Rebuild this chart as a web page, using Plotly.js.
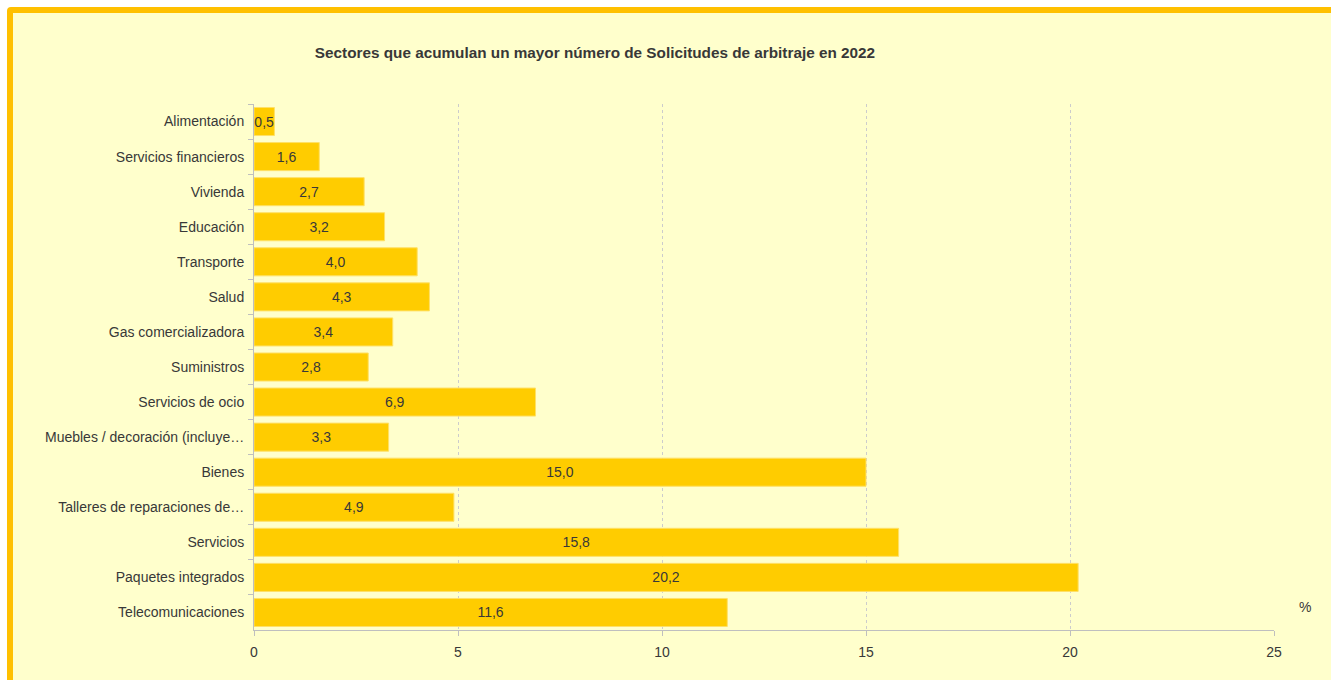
<!DOCTYPE html>
<html>
<head>
<meta charset="utf-8">
<script src="https://cdn.plot.ly/plotly-3.0.1.min.js"></script>
<style>
html,body{margin:0;padding:0;width:1331px;height:680px;overflow:hidden;background:#ffffff;}
#frame{position:absolute;left:7px;top:7px;width:1340px;height:700px;border:6px solid #FFC000;border-radius:4px;background:#FFFFCC;box-sizing:border-box;}
#chart{position:absolute;left:0;top:0;width:1331px;height:680px;}
</style>
</head>
<body>
<div id="frame"></div>
<div id="chart"></div>
<script>
var categories = [
  "Alimentación",
  "Servicios financieros",
  "Vivienda",
  "Educación",
  "Transporte",
  "Salud",
  "Gas comercializadora",
  "Suministros",
  "Servicios de ocio",
  "Muebles / decoración (incluye…",
  "Bienes",
  "Talleres de reparaciones de…",
  "Servicios",
  "Paquetes integrados",
  "Telecomunicaciones"
];
var values = [0.5, 1.6, 2.7, 3.2, 4.0, 4.3, 3.4, 2.8, 6.9, 3.3, 15.0, 4.9, 15.8, 20.2, 11.6];
var xTicks = [0, 5, 10, 15, 20, 25];

var fontFam = "'Liberation Sans Narrow', 'Arial Narrow', 'Liberation Sans', Arial, sans-serif";
var txtColor = '#383838';

var trace = {
  type: 'bar',
  orientation: 'h',
  y: categories,
  x: values,
  marker: {color: '#FFCC00', line: {color: '#FFE066', width: 1}},
  texttemplate: '%{x:.1f}',
  textposition: 'inside',
  insidetextanchor: 'middle',
  textangle: 0,
  constraintext: 'none',
  textfont: {family: fontFam, size: 14, color: txtColor},
  cliponaxis: false,
  hoverinfo: 'none'
};

var layout = {
  width: 1331,
  height: 680,
  paper_bgcolor: 'rgba(0,0,0,0)',
  plot_bgcolor: 'rgba(0,0,0,0)',
  separators: ',.',
  margin: {l: 254, r: 57, t: 104, b: 50, pad: 0},
  bargap: 0.2,
  showlegend: false,
  font: {family: fontFam, size: 14, color: txtColor},
  title: {
    text: '<b>Sectores que acumulan un mayor número de Solicitudes de arbitraje en 2022</b>',
    font: {family: fontFam, size: 15.3, color: txtColor},
    x: 0.447, xanchor: 'center', xref: 'container',
    y: 0.923, yanchor: 'middle', yref: 'container'
  },
  xaxis: {
    range: [0, 25],
    tickvals: xTicks,
    ticktext: xTicks.map(String),
    showgrid: true,
    gridcolor: '#cccccc',
    griddash: 'dot',
    gridwidth: 1,
    zeroline: false,
    showline: true,
    linecolor: '#bfbfbf',
    linewidth: 1,
    ticks: 'outside',
    ticklen: 5,
    tickcolor: '#bfbfbf',
    ticklabelstandoff: 4,
    tickfont: {family: fontFam, size: 14, color: txtColor},
    fixedrange: true
  },
  yaxis: {
    categoryorder: 'array',
    categoryarray: categories,
    autorange: 'reversed',
    showline: true,
    linecolor: '#bfbfbf',
    linewidth: 1,
    ticks: 'outside',
    tickson: 'boundaries',
    ticklen: 5,
    tickcolor: '#bfbfbf',
    showgrid: false,
    tickfont: {family: fontFam, size: 14, color: txtColor},
    ticklabelstandoff: 6,
    fixedrange: true
  },
  annotations: [{
    text: '%',
    xref: 'paper', yref: 'paper',
    x: 1.03, y: 0.043,
    xanchor: 'center', yanchor: 'middle',
    showarrow: false,
    font: {family: fontFam, size: 14, color: txtColor}
  }]
};

Plotly.newPlot('chart', [trace], layout, {displayModeBar: false, staticPlot: true});
</script>
</body>
</html>
